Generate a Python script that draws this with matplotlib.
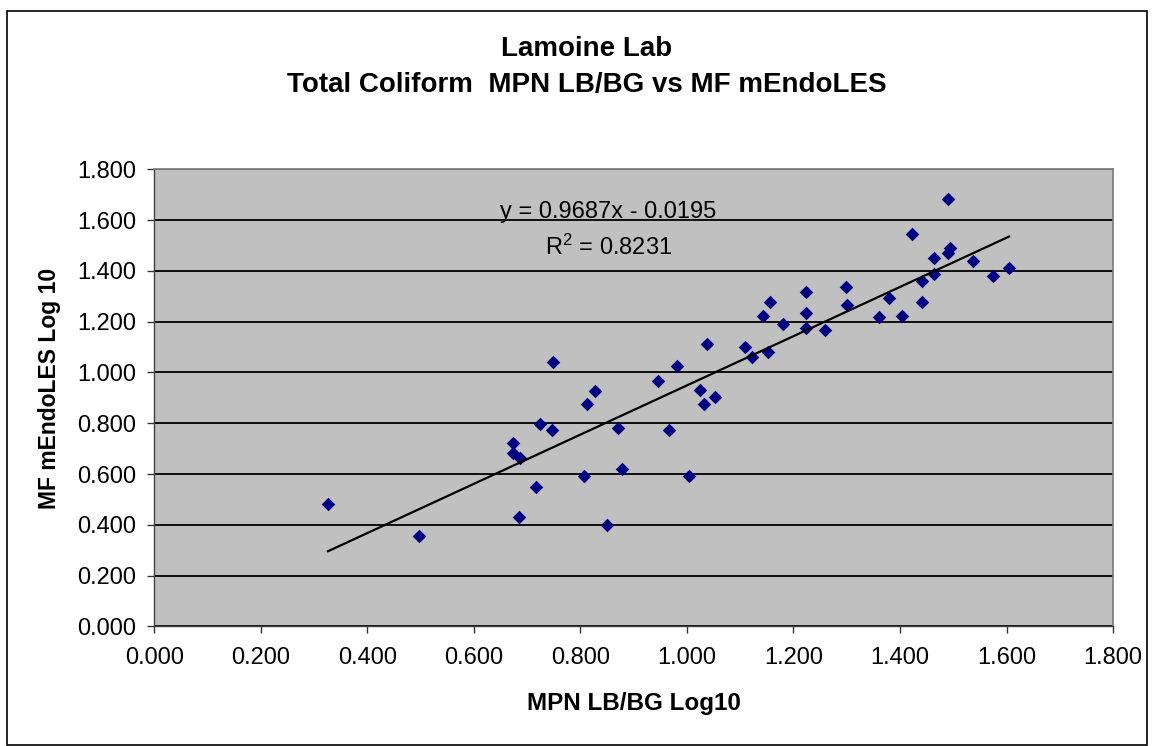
import numpy as np
import matplotlib.pyplot as plt
from matplotlib.patches import Rectangle
from matplotlib.ticker import FormatStrFormatter, MultipleLocator

plt.rcParams['font.family'] = ['Liberation Sans', 'DejaVu Sans']

# data (log10 values)
mpn_log = [0.326, 0.496, 0.674, 0.674, 0.687, 0.685, 0.717, 0.724, 0.747, 0.749,
           0.806, 0.813, 0.828, 0.849, 0.871, 0.878, 0.945, 0.967, 0.981, 1.003,
           1.024, 1.032, 1.038, 1.053, 1.109, 1.122, 1.153, 1.142, 1.156, 1.181,
           1.224, 1.224, 1.224, 1.259, 1.299, 1.301, 1.360, 1.380, 1.403, 1.423,
           1.441, 1.441, 1.463, 1.464, 1.491, 1.493, 1.491, 1.538, 1.575, 1.605]
mf_log = [0.482, 0.356, 0.721, 0.684, 0.663, 0.432, 0.550, 0.796, 0.773, 1.041,
          0.593, 0.876, 0.929, 0.401, 0.780, 0.619, 0.965, 0.773, 1.026, 0.593,
          0.930, 0.876, 1.114, 0.905, 1.101, 1.062, 1.079, 1.222, 1.278, 1.190,
          1.315, 1.233, 1.176, 1.167, 1.337, 1.265, 1.219, 1.294, 1.223, 1.545,
          1.360, 1.276, 1.449, 1.387, 1.681, 1.492, 1.469, 1.440, 1.380, 1.412]

# trendline from the chart
slope = 0.9687
intercept = -0.0195
r2 = 0.8231

fig = plt.figure(figsize=(11.54, 7.46), dpi=100)
ax = fig.add_axes([0.1338, 0.1602, 0.8307, 0.6129])
ax.set_facecolor('#C0C0C0')

# outer chart border
fig.patches.append(Rectangle((7 / 1154, 1 / 746), 1140 / 1154, 734 / 746,
                             transform=fig.transFigure, fill=False,
                             edgecolor='black', linewidth=1.2))

ax.scatter(mpn_log, mf_log, marker='D', s=48, color='#000080', zorder=3, linewidths=0)

x_line = np.array([min(mpn_log), max(mpn_log)])
ax.plot(x_line, slope * x_line + intercept, color='black', linewidth=1.6, zorder=4)

ax.set_xlim(0, 1.8)
ax.set_ylim(0, 1.8)
ax.xaxis.set_major_locator(MultipleLocator(0.2))
ax.yaxis.set_major_locator(MultipleLocator(0.2))
ax.xaxis.set_major_formatter(FormatStrFormatter('%.3f'))
ax.yaxis.set_major_formatter(FormatStrFormatter('%.3f'))
ax.tick_params(direction='out', length=5, width=1, labelsize=17, colors='#333333',
               labelcolor='black')
ax.tick_params(axis='y', pad=8)
ax.tick_params(axis='x', pad=10)
ax.yaxis.grid(True, color='black', linewidth=1.3)
ax.set_axisbelow(True)
for side in ['top', 'right']:
    ax.spines[side].set_color('#808080')
    ax.spines[side].set_linewidth(1.3)
for side in ['left', 'bottom']:
    ax.spines[side].set_color('#404040')
    ax.spines[side].set_linewidth(1.0)

ax.set_xlabel('MPN LB/BG Log10', fontsize=17.5, fontweight='bold', va='center')
ax.xaxis.set_label_coords(0.5, -0.1695)
ax.set_ylabel('MF mEndoLES Log 10', fontsize=16.5, fontweight='bold', va='center')
ax.yaxis.set_label_coords(-0.109, 0.5217)

ax.text(0.852, 1.632, 'y = 0.9687x - 0.0195', fontsize=17, ha='center', va='center')
ax.text(0.852, 1.494, '$\\mathregular{R^2}$ = ' + str(r2), fontsize=17, ha='center', va='center')

fig.text(0.5087, 1 - 49 / 746, 'Lamoine Lab', fontsize=20, fontweight='bold',
         ha='center', va='center')
fig.text(0.5087, 1 - 85 / 746, 'Total Coliform  MPN LB/BG vs MF mEndoLES', fontsize=20,
         fontweight='bold', ha='center', va='center')

fig.savefig('out.png', dpi=100)
